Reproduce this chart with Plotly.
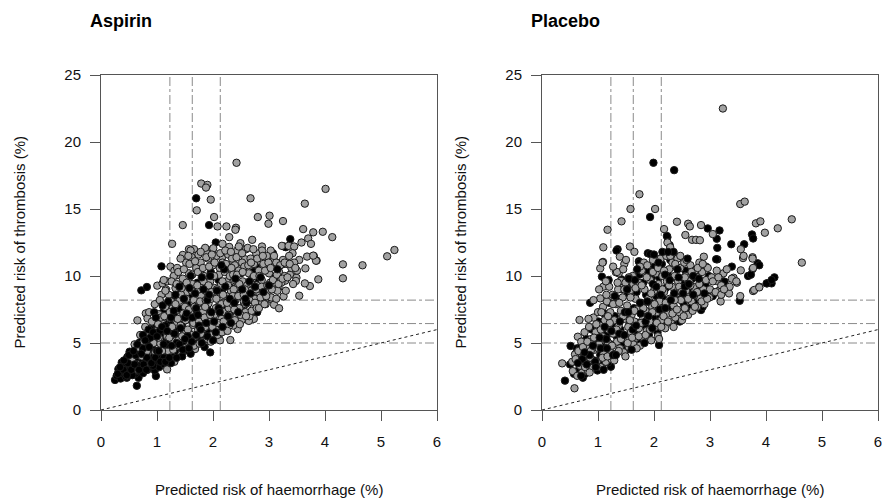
import plotly.graph_objects as go

# ---------------------------------------------------------------
# Predicted risks (%) per patient: (haemorrhage, thrombosis)
# ---------------------------------------------------------------
aspirin_black = [
    # isolated patients
    (0.25, 2.24), (0.64, 1.81), (0.98, 2.54), (0.67, 2.41), (0.46, 2.41), (0.51, 4.35),
    (0.42, 3.30), (0.50, 3.66), (0.72, 8.93), (0.82, 9.18), (1.08, 10.72), (1.95, 4.30),
    (2.79, 7.30), (1.70, 15.8), (1.93, 13.8), (2.05, 12.5), (3.38, 12.75), (3.27, 12.2),
    (3.30, 12.15), (3.07, 11.7), (2.77, 10.67), (2.72, 10.3), (3.26, 10.9), (2.50, 9.28),
    # main cloud
    (0.28, 2.55), (0.31, 3.05), (0.35, 2.35), (0.37, 3.55), (0.39, 2.75), (0.43, 3.25),
    (0.44, 2.50), (0.47, 3.95), (0.49, 2.95), (0.52, 3.45), (0.53, 2.62), (0.56, 4.15),
    (0.57, 3.10), (0.59, 3.70), (0.61, 2.70), (0.62, 4.55), (0.64, 3.35), (0.66, 3.95),
    (0.67, 2.90), (0.69, 5.05), (0.71, 4.30), (0.72, 3.20), (0.74, 3.75), (0.75, 2.75),
    (0.77, 4.75), (0.78, 5.55), (0.80, 3.45), (0.81, 4.10), (0.83, 3.00), (0.84, 5.20),
    (0.86, 4.50), (0.87, 3.70), (0.89, 6.05), (0.90, 3.25), (0.92, 4.85), (0.93, 5.60),
    (0.95, 4.05), (0.96, 2.95), (0.98, 6.40), (0.99, 3.55), (1.01, 5.15), (1.02, 4.40),
    (1.04, 3.20), (1.05, 6.80), (1.07, 3.85), (1.08, 5.70), (1.10, 4.70), (1.11, 7.30),
    (1.13, 3.40), (1.14, 6.15), (1.16, 4.25), (1.17, 5.30), (1.19, 7.90), (1.20, 3.70),
    (1.22, 6.60), (1.24, 4.60), (1.25, 5.65), (1.27, 8.40), (1.29, 3.95), (1.30, 7.10),
    (1.32, 4.95), (1.34, 6.00), (1.36, 4.30), (1.37, 8.90), (1.39, 5.40), (1.41, 7.55),
    (1.43, 4.60), (1.45, 6.35), (1.47, 9.30), (1.49, 5.10), (1.52, 4.45), (1.54, 7.90),
    (1.56, 5.80), (1.58, 6.75), (1.60, 4.75), (1.62, 8.60), (1.65, 5.35), (1.67, 7.20),
    (1.70, 4.90), (1.72, 9.50), (1.75, 6.20), (1.77, 5.20), (1.80, 8.00), (1.83, 6.70),
    (1.85, 5.50), (1.88, 9.20), (1.90, 7.50), (1.93, 5.80), (1.96, 10.3), (1.98, 6.90),
    (2.01, 8.40), (2.04, 5.50), (2.07, 7.40), (2.10, 9.70), (2.13, 6.30), (2.16, 8.80),
    (2.19, 5.90), (2.22, 7.80), (2.26, 10.6), (2.29, 6.70), (2.33, 9.10), (2.37, 7.30),
    (2.41, 8.60), (2.45, 6.60), (2.50, 10.2), (2.55, 7.80), (2.60, 9.00), (2.66, 7.20),
    (2.71, 8.40), (2.78, 9.60), (2.85, 8.10), (2.95, 10.4), (3.10, 9.90),
]

aspirin_gray = [
    # isolated patients
    (2.42, 18.45), (1.79, 16.9), (1.90, 16.8), (1.875, 16.6), (1.96, 15.7), (1.71, 14.9),
    (2.02, 14.4), (1.46, 13.8), (2.08, 13.7), (2.24, 13.7), (2.41, 13.6), (2.40, 13.45),
    (2.67, 15.8), (2.80, 14.4), (3.01, 14.5), (2.99, 13.9), (3.25, 14.1), (4.01, 16.5),
    (3.64, 15.4), (3.61, 13.5), (3.79, 13.26), (3.96, 13.3), (4.13, 12.9), (3.70, 12.8),
    (3.58, 12.5), (3.75, 12.4), (1.27, 12.4), (2.17, 12.4), (2.29, 12.9), (2.49, 12.45),
    (2.70, 12.7), (2.875, 12.2), (3.23, 12.25), (3.35, 12.25), (5.24, 11.94), (5.11, 11.47),
    (1.57, 12.0), (1.66, 12.0), (1.99, 12.0), (2.875, 11.9), (3.03, 11.9), (3.45, 12.2),
    (3.42, 11.7), (3.68, 11.45), (3.80, 11.5), (3.85, 11.15), (1.89, 11.7), (2.005, 12.07),
    (2.29, 12.17), (2.16, 11.37), (4.32, 10.87), (4.67, 10.8), (4.32, 9.83), (3.65, 10.57),
    (3.88, 9.75), (3.73, 9.25), (3.375, 10.1), (3.20, 10.8), (3.08, 11.27), (2.96, 11.3),
    (2.57, 11.25), (2.36, 11.07), (2.44, 10.57), (3.54, 11.2), (3.49, 9.87), (3.84, 11.14),
    (3.79, 11.52), (3.64, 9.45), (3.48, 9.63), (3.29, 9.65), (3.17, 9.15), (3.05, 8.26),
    (3.26, 8.48), (3.54, 8.53), (3.09, 7.86), (3.18, 7.59), (2.73, 6.8), (2.64, 6.65),
    (2.44, 6.04), (2.125, 5.2), (2.31, 5.22), (1.18, 3.03), (1.65, 4.55), (0.65, 6.69),
    (0.80, 7.21), (0.83, 6.84), (1.005, 9.28), (1.10, 9.45), (1.18, 9.6), (1.24, 10.7),
    (1.31, 10.4), (1.35, 10.05), (1.46, 11.57), (1.60, 11.9),
    # main cloud
    (0.55, 3.75), (0.60, 4.90), (0.63, 3.00), (0.68, 4.60), (0.70, 5.60), (0.73, 4.00),
    (0.76, 5.10), (0.79, 6.20), (0.82, 4.40), (0.85, 5.75), (0.88, 3.45), (0.91, 6.60),
    (0.94, 5.00), (0.97, 4.30), (1.00, 5.90), (1.03, 7.15), (1.06, 4.95), (1.09, 6.50),
    (1.12, 3.80), (1.15, 7.70), (1.18, 5.50), (1.20, 4.40), (1.21, 8.60), (1.23, 6.85),
    (1.26, 5.10), (1.28, 7.60), (1.31, 3.60), (1.33, 9.10), (1.35, 6.40), (1.38, 5.20),
    (1.40, 8.15), (1.42, 7.00), (1.44, 4.20), (1.46, 9.80), (1.48, 5.90), (1.50, 7.70),
    (1.51, 6.70), (1.53, 8.80), (1.55, 4.70), (1.57, 10.2), (1.59, 7.30), (1.61, 5.60),
    (1.63, 9.40), (1.64, 6.35), (1.66, 8.20), (1.68, 4.55), (1.70, 10.6), (1.71, 7.80),
    (1.73, 5.95), (1.75, 9.00), (1.76, 6.90), (1.78, 11.0), (1.79, 8.50), (1.81, 5.10),
    (1.82, 7.30), (1.84, 10.0), (1.86, 6.20), (1.87, 8.90), (1.89, 5.35), (1.91, 11.3),
    (1.92, 7.95), (1.94, 6.60), (1.95, 9.60), (1.97, 8.30), (1.99, 5.60), (2.00, 10.8),
    (2.02, 7.10), (2.03, 9.10), (2.05, 6.00), (2.06, 11.5), (2.08, 8.60), (2.09, 7.70),
    (2.11, 10.1), (2.12, 5.70), (2.14, 9.30), (2.15, 6.80), (2.17, 11.0), (2.18, 8.00),
    (2.20, 7.30), (2.21, 10.3), (2.23, 6.20), (2.24, 9.60), (2.25, 8.50), (2.27, 11.6),
    (2.28, 7.60), (2.30, 10.0), (2.31, 6.90), (2.32, 8.90), (2.34, 11.3), (2.35, 7.90),
    (2.36, 6.30), (2.38, 9.70), (2.39, 10.8), (2.40, 8.20), (2.42, 7.00), (2.43, 11.9),
    (2.44, 9.20), (2.46, 10.4), (2.47, 7.60), (2.49, 8.70), (2.51, 6.70), (2.52, 11.0),
    (2.53, 9.60), (2.55, 8.10), (2.56, 10.7), (2.58, 7.30), (2.59, 12.0), (2.61, 9.30),
    (2.62, 8.50), (2.64, 10.2), (2.65, 7.00), (2.67, 11.3), (2.68, 8.90), (2.70, 9.80),
    (2.72, 7.60), (2.73, 10.9), (2.75, 8.30), (2.77, 11.7), (2.78, 9.30), (2.80, 7.90),
    (2.82, 10.4), (2.83, 8.70), (2.85, 11.1), (2.87, 9.70), (2.88, 8.00), (2.90, 10.9),
    (2.92, 9.10), (2.94, 7.90), (2.96, 11.5), (2.98, 8.80), (3.00, 10.2), (3.02, 9.50),
    (3.04, 8.40), (3.07, 10.7), (3.10, 9.00), (3.13, 11.0), (3.15, 8.90), (3.18, 10.3),
    (3.22, 9.50), (3.25, 11.2), (3.28, 10.0), (3.32, 10.9), (3.36, 11.5), (3.40, 10.6),
    (3.45, 11.0), (3.50, 10.4), (1.36, 10.6), (1.52, 11.0), (1.62, 11.4), (1.74, 11.6),
    (1.86, 12.1), (1.42, 11.3), (1.30, 10.0), (1.16, 9.00), (1.08, 8.60), (0.96, 7.90),
    (0.86, 7.30),
    # denser middle of the cloud
    (1.03, 5.40), (1.07, 6.90), (1.05, 8.20), (1.09, 4.40), (1.02, 6.40), (1.13, 7.00),
    (1.17, 5.90), (1.15, 8.90), (1.19, 4.90), (1.12, 9.70), (1.23, 7.30), (1.27, 6.20),
    (1.25, 8.10), (1.29, 4.50), (1.22, 5.40), (1.26, 9.60), (1.33, 7.90), (1.37, 6.80),
    (1.35, 9.40), (1.39, 4.80), (1.32, 5.70), (1.38, 10.3), (1.43, 8.60), (1.47, 7.20),
    (1.45, 5.50), (1.49, 4.60), (1.42, 6.30), (1.48, 10.5), (1.44, 9.10), (1.53, 9.50),
    (1.57, 7.50), (1.55, 6.00), (1.59, 5.10), (1.52, 8.30), (1.58, 10.9), (1.56, 11.5),
    (1.63, 10.1), (1.67, 7.70), (1.65, 6.50), (1.69, 5.50), (1.62, 8.90), (1.68, 11.1),
    (1.66, 4.80), (1.73, 10.3), (1.77, 8.10), (1.75, 6.60), (1.79, 5.70), (1.72, 9.30),
    (1.78, 11.8), (1.76, 4.95), (1.83, 9.60), (1.87, 8.20), (1.85, 6.90), (1.89, 5.30),
    (1.82, 10.6), (1.88, 11.4), (1.86, 7.70), (1.93, 10.7), (1.97, 8.80), (1.95, 7.10),
    (1.99, 6.20), (1.92, 9.30), (1.98, 11.6), (1.96, 5.10), (2.03, 11.0), (2.07, 9.00),
    (2.05, 7.60), (2.09, 6.50), (2.02, 10.0), (2.08, 5.60), (2.06, 8.30), (2.13, 11.7),
    (2.17, 9.60), (2.15, 7.90), (2.19, 6.60), (2.12, 10.6), (2.18, 8.60), (2.16, 5.80),
    (2.23, 10.9), (2.27, 9.30), (2.25, 8.00), (2.29, 6.30), (2.22, 11.9), (2.28, 7.10),
    (2.26, 5.90), (2.33, 10.6), (2.37, 9.00), (2.35, 8.50), (2.39, 6.70), (2.32, 11.8),
    (2.38, 7.50), (2.36, 10.1), (2.43, 10.1), (2.47, 9.40), (2.45, 8.50), (2.49, 7.10),
    (2.42, 11.4), (2.48, 6.40), (2.46, 12.2), (2.53, 10.3), (2.57, 9.00), (2.55, 8.60),
    (2.59, 7.00), (2.52, 11.7), (2.58, 7.90), (2.63, 10.8), (2.67, 9.50), (2.65, 8.20),
    (2.69, 7.40), (2.62, 12.1), (2.68, 11.0), (2.73, 10.0), (2.77, 9.00), (2.75, 8.00),
    (2.79, 11.3), (2.72, 12.0), (2.78, 7.60), (2.83, 10.0), (2.87, 9.20), (2.85, 8.40),
    (2.89, 11.5), (2.82, 7.60), (2.93, 10.4), (2.97, 9.30), (2.95, 8.50), (2.99, 11.0),
    (2.92, 7.90), (3.03, 10.6), (3.07, 9.70), (3.05, 9.00), (3.09, 11.5), (3.14, 10.1),
    (3.17, 9.40), (3.20, 10.8), (3.13, 8.30), (3.24, 9.80), (3.28, 11.0), (3.33, 9.90),
    (3.37, 10.9), (3.43, 9.40), (3.47, 10.6), (3.30, 8.90),
]

aspirin_black_top = [
    (0.30, 2.7), (0.40, 3.0), (0.48, 3.5), (0.56, 2.6), (0.62, 4.1), (0.70, 3.3), (0.75, 4.6),
    (0.82, 3.9), (0.88, 5.4), (0.93, 3.3), (1.00, 4.4), (1.05, 5.9), (1.12, 3.9), (1.18, 4.9),
    (1.25, 3.5), (1.35, 5.0), (1.45, 4.0), (1.55, 5.5), (1.60, 4.2), (1.75, 6.3), (1.85, 4.7),
    (1.90, 8.2), (2.10, 7.6), (2.30, 8.3), (2.40, 9.8), (2.60, 8.0), (2.20, 10.5), (1.70, 7.6),
    (1.50, 6.9), (1.30, 7.4), (1.15, 6.3), (0.75, 5.6), (0.85, 6.0), (0.95, 7.3), (1.40, 9.2),
    (2.65, 9.6), (2.90, 8.8), (1.80, 9.9),
    (0.34, 3.2), (0.41, 3.7), (0.46, 2.6), (0.50, 4.1), (0.54, 3.0), (0.58, 4.4), (0.60, 3.4),
    (0.65, 4.9), (0.68, 3.0), (0.72, 4.2), (0.76, 3.4), (0.79, 5.2), (0.81, 3.0), (0.86, 4.7),
    (0.90, 3.5), (0.93, 5.8), (0.97, 3.9), (1.00, 5.5), (1.03, 4.4), (1.06, 3.6), (1.09, 6.2),
    (1.12, 4.9), (1.15, 3.6), (1.18, 5.9), (1.22, 3.9), (1.26, 4.8), (1.31, 5.7), (1.35, 3.9),
    (1.40, 4.9), (1.46, 4.5), (1.50, 5.3), (1.57, 4.6), (1.62, 5.1), (1.70, 5.6), (1.80, 5.0),
    (1.90, 5.5), (2.00, 5.2), (2.05, 5.8),
    (1.25, 6.9), (1.33, 8.6), (1.42, 6.1), (1.48, 8.3), (1.53, 7.2), (1.58, 9.1), (1.63, 6.9),
    (1.68, 8.7), (1.73, 7.1), (1.78, 6.0), (1.83, 9.0), (1.88, 6.5), (1.93, 8.6), (1.97, 7.3),
    (2.02, 6.6), (2.07, 8.9), (2.12, 7.3), (2.17, 6.2), (2.22, 9.2), (2.27, 7.0), (2.32, 6.5),
    (2.38, 8.0), (2.45, 7.3), (2.52, 9.0), (2.58, 8.3), (2.67, 8.7), (2.75, 9.2), (2.85, 9.9),
    (3.00, 9.3), (1.95, 10.0), (2.15, 10.8), (1.60, 10.0), (1.10, 7.8), (1.20, 8.1),
    (0.98, 6.9), (3.15, 10.5),
]

placebo_black = [
    # isolated patients
    (1.99, 18.45), (2.36, 17.9), (1.93, 14.4), (1.35, 12.0), (2.24, 12.9), (2.96, 13.55),
    (3.12, 12.78), (3.17, 13.4), (3.13, 12.1), (3.38, 12.37), (3.61, 12.37), (3.75, 13.1),
    (3.77, 12.8), (3.85, 10.95), (3.76, 10.52), (3.68, 10.0), (3.39, 10.7), (3.13, 11.24),
    (3.24, 9.6), (4.15, 9.9), (4.10, 9.45), (4.02, 9.45), (0.41, 2.19), (0.51, 4.78),
    (0.62, 4.6), (0.73, 2.41), (0.86, 8.0), (1.07, 9.95), (1.19, 9.7), (1.42, 9.75),
    (1.73, 11.1), (1.89, 11.7), (3.02, 8.6), (3.53, 8.15), (4.01, 9.45), (4.10, 9.7),
    (3.11, 11.25), (3.26, 9.57), (3.73, 10.1), (3.88, 10.8), (1.33, 11.9), (1.74, 11.0),
    (1.93, 11.64), (2.23, 12.99), (2.28, 12.3), (2.09, 4.85), (1.23, 3.23), (2.84, 7.46),
    # main cloud
    (0.50, 3.40), (0.57, 2.70), (0.60, 4.20), (0.66, 3.00), (0.69, 4.70), (0.73, 3.60),
    (0.77, 2.70), (0.79, 5.30), (0.83, 4.20), (0.85, 3.20), (0.89, 6.00), (0.93, 3.70),
    (0.95, 5.00), (0.99, 2.95), (1.01, 6.60), (1.04, 4.10), (1.06, 5.90), (1.08, 3.40),
    (1.11, 7.20), (1.13, 4.70), (1.15, 5.60), (1.18, 3.55), (1.20, 8.00), (1.23, 4.90),
    (1.25, 6.40), (1.28, 3.90), (1.30, 7.00), (1.33, 5.50), (1.35, 8.30), (1.38, 4.40),
    (1.40, 6.00), (1.43, 9.00), (1.45, 5.00), (1.48, 7.10), (1.51, 4.50), (1.53, 8.60),
    (1.56, 6.40), (1.58, 5.00), (1.61, 9.20), (1.64, 7.60), (1.66, 5.70), (1.69, 8.80),
    (1.71, 6.50), (1.74, 10.1), (1.76, 5.20), (1.79, 7.80), (1.81, 9.50), (1.84, 6.30),
    (1.86, 8.60), (1.89, 10.4), (1.91, 5.60), (1.94, 8.00), (1.96, 9.90), (1.99, 6.90),
    (2.01, 10.7), (2.04, 8.50), (2.06, 5.80), (2.09, 9.90), (2.11, 7.00), (2.14, 10.9),
    (2.16, 8.30), (2.19, 6.40), (2.21, 9.10), (2.24, 10.2), (2.26, 7.70), (2.29, 11.2),
    (2.31, 8.00), (2.34, 6.40), (2.36, 9.90), (2.39, 7.40), (2.41, 10.6), (2.44, 8.40),
    (2.46, 6.60), (2.49, 9.40), (2.53, 7.90), (2.56, 10.4), (2.60, 8.90), (2.64, 7.60),
    (2.68, 9.80), (2.72, 8.00), (2.76, 10.1), (2.82, 8.90), (2.87, 7.70), (2.92, 9.30),
    (2.98, 10.0), (3.05, 8.50),
]

placebo_gray = [
    # isolated patients
    (3.23, 22.5), (1.74, 16.1), (1.58, 15.0), (2.02, 15.0), (1.42, 14.08), (1.17, 13.45),
    (1.095, 12.14), (1.57, 12.2), (2.18, 13.5), (2.24, 12.5), (2.29, 12.14), (2.41, 14.05),
    (2.61, 13.9), (2.64, 13.7), (2.56, 13.06), (2.68, 12.7), (2.75, 12.7), (2.82, 12.67),
    (2.84, 13.8), (3.05, 13.13), (3.54, 15.37), (3.62, 15.55), (3.82, 13.93), (3.90, 14.08),
    (3.98, 13.23), (4.21, 13.56), (4.46, 14.23), (3.55, 12.0), (3.59, 11.34), (3.76, 11.4),
    (3.55, 10.42), (3.24, 10.2), (3.42, 9.87), (3.48, 9.5), (4.64, 11.0), (3.88, 9.2),
    (3.12, 9.63), (2.89, 11.44), (2.93, 10.7), (0.36, 3.48), (0.58, 1.62), (0.64, 5.47),
    (0.67, 6.72), (0.54, 3.6), (0.59, 4.15), (1.095, 9.2), (1.04, 10.57), (1.09, 11.05),
    (1.20, 9.2), (1.32, 10.28), (1.37, 10.2), (1.45, 9.4), (1.63, 9.4), (1.82, 11.0),
    (3.16, 8.9), (3.19, 8.1), (3.28, 8.9), (3.34, 8.7), (3.54, 8.5), (3.77, 8.88), (3.79, 8.96),
    (3.88, 9.15), (3.39, 9.8), (3.47, 9.6), (3.77, 10.6), (3.76, 11.3), (3.60, 11.5),
    (1.39, 11.44), (1.47, 10.9), (1.08, 11.0), (1.34, 10.3), (1.41, 9.63), (1.04, 8.33),
    # main cloud
    (0.55, 2.90), (0.60, 3.80), (0.63, 2.55), (0.65, 4.40), (0.68, 3.30), (0.70, 5.10),
    (0.72, 2.80), (0.74, 4.00), (0.76, 5.80), (0.78, 3.50), (0.80, 4.60), (0.82, 2.90),
    (0.84, 6.20), (0.86, 3.90), (0.88, 5.30), (0.90, 3.15), (0.92, 6.90), (0.94, 4.50),
    (0.96, 5.80), (0.98, 3.60), (1.00, 7.30), (1.02, 4.90), (1.03, 6.30), (1.05, 3.20),
    (1.07, 5.50), (1.09, 7.70), (1.10, 4.20), (1.12, 6.70), (1.14, 3.60), (1.16, 8.10),
    (1.17, 5.10), (1.19, 6.00), (1.21, 4.50), (1.22, 7.30), (1.24, 3.80), (1.26, 8.60),
    (1.27, 5.70), (1.29, 6.70), (1.31, 4.20), (1.32, 7.90), (1.34, 5.10), (1.36, 9.00),
    (1.37, 6.30), (1.39, 4.60), (1.41, 7.40), (1.42, 5.70), (1.44, 8.40), (1.46, 4.30),
    (1.47, 6.80), (1.49, 9.50), (1.50, 5.30), (1.52, 7.80), (1.54, 6.20), (1.55, 4.70),
    (1.57, 8.90), (1.59, 5.80), (1.60, 7.10), (1.62, 10.0), (1.63, 4.90), (1.65, 6.60),
    (1.67, 8.30), (1.68, 5.40), (1.70, 7.50), (1.72, 9.50), (1.73, 6.10), (1.75, 4.80),
    (1.77, 8.00), (1.78, 10.4), (1.80, 6.80), (1.82, 5.30), (1.83, 9.00), (1.85, 7.40),
    (1.87, 5.90), (1.88, 10.8), (1.90, 8.30), (1.92, 6.60), (1.93, 9.70), (1.95, 5.20),
    (1.97, 7.70), (1.98, 11.2), (2.00, 8.90), (2.02, 6.20), (2.03, 10.2), (2.05, 7.30),
    (2.07, 5.50), (2.08, 9.40), (2.10, 8.10), (2.12, 11.3), (2.13, 6.70), (2.15, 10.0),
    (2.17, 7.60), (2.18, 8.80), (2.20, 6.10), (2.22, 11.5), (2.23, 9.60), (2.25, 7.20),
    (2.27, 10.5), (2.28, 8.30), (2.30, 6.60), (2.32, 9.20), (2.33, 11.0), (2.35, 7.80),
    (2.37, 10.0), (2.38, 6.90), (2.40, 8.70), (2.42, 11.3), (2.43, 9.60), (2.45, 7.30),
    (2.47, 10.6), (2.48, 8.20), (2.50, 6.70), (2.52, 9.10), (2.54, 11.0), (2.55, 7.60),
    (2.57, 10.0), (2.59, 8.50), (2.61, 7.10), (2.63, 9.60), (2.65, 10.8), (2.67, 8.10),
    (2.69, 7.40), (2.71, 9.20), (2.73, 10.4), (2.75, 8.60), (2.77, 7.70), (2.79, 9.90),
    (2.81, 11.0), (2.83, 8.30), (2.86, 10.3), (2.88, 9.00), (2.90, 7.90), (2.93, 9.70),
    (2.96, 10.6), (2.99, 8.40), (3.03, 9.90), (3.07, 8.80), (3.12, 10.4), (3.20, 9.30),
    (3.30, 10.5), (3.35, 9.20), (1.14, 9.60), (1.27, 10.7), (1.50, 11.2), (1.65, 11.8),
    (1.45, 10.5), (1.02, 9.00), (0.92, 8.20),
    # denser middle of the cloud
    (0.73, 4.70), (0.77, 3.20), (0.81, 5.10), (0.85, 2.80), (0.87, 4.40), (0.83, 6.80),
    (0.93, 5.40), (0.97, 3.30), (1.01, 4.60), (1.05, 6.00), (0.97, 6.40), (1.08, 3.90),
    (1.06, 7.30), (1.13, 5.30), (1.17, 4.00), (1.21, 6.50), (1.25, 4.80), (1.18, 7.00),
    (1.27, 7.90), (1.15, 8.60), (1.29, 3.70), (1.33, 6.00), (1.37, 4.40), (1.41, 5.30),
    (1.45, 7.00), (1.38, 8.00), (1.47, 9.00), (1.35, 9.50), (1.49, 4.00), (1.53, 5.00),
    (1.57, 6.70), (1.61, 5.40), (1.65, 7.40), (1.58, 8.40), (1.67, 9.10), (1.55, 9.90),
    (1.69, 4.60), (1.73, 5.50), (1.77, 6.50), (1.81, 7.60), (1.85, 5.60), (1.78, 9.30),
    (1.87, 9.90), (1.75, 10.7), (1.89, 7.00), (1.93, 6.00), (1.97, 7.30), (2.01, 7.90),
    (2.05, 6.50), (1.98, 10.3), (2.07, 10.6), (1.95, 8.70), (2.09, 5.30), (2.13, 6.20),
    (2.17, 7.00), (2.21, 8.00), (2.25, 6.60), (2.18, 10.4), (2.27, 9.30), (2.15, 9.00),
    (2.29, 11.5), (2.33, 7.20), (2.37, 8.20), (2.41, 7.50), (2.45, 9.20), (2.38, 10.9),
    (2.47, 11.5), (2.35, 6.20), (2.49, 8.80), (2.53, 7.00), (2.57, 8.90), (2.61, 8.30),
    (2.65, 9.30), (2.58, 11.2), (2.67, 10.3), (2.55, 9.90), (2.73, 7.70), (2.77, 8.80),
    (2.81, 9.40), (2.85, 8.10), (2.78, 10.6), (2.87, 10.9), (2.95, 8.30), (3.00, 9.00),
    (3.05, 9.60), (3.10, 8.80), (3.15, 9.90), (3.20, 8.60), (3.25, 9.00),
]

placebo_black_top = [
    (0.72, 3.8), (0.85, 4.1), (0.95, 3.6), (1.05, 4.6), (1.15, 5.3), (1.27, 4.1), (1.38, 5.7),
    (1.48, 7.3), (1.62, 6.0), (1.75, 8.0), (1.85, 6.6), (1.98, 9.4), (2.10, 7.5), (2.20, 10.1),
    (2.30, 8.2), (2.42, 10.5), (2.55, 9.2), (2.70, 10.0), (2.00, 11.6), (2.15, 11.8),
    (1.70, 10.5), (2.35, 11.8), (2.60, 11.3), (1.55, 9.8),
    (0.64, 3.5), (0.70, 2.55), (0.76, 4.3), (0.80, 3.4), (0.91, 4.8), (0.96, 3.2), (1.03, 5.4),
    (1.10, 3.0), (1.16, 4.6), (1.24, 5.9), (1.32, 4.1), (1.39, 6.6), (1.47, 5.6), (1.54, 7.3),
    (1.60, 4.5), (1.68, 6.3), (1.76, 7.2), (1.83, 5.0), (1.90, 7.0), (1.97, 6.1), (2.04, 9.2),
    (2.12, 8.6), (2.20, 7.6), (2.28, 9.7), (2.36, 8.7), (2.44, 9.9), (2.52, 8.7), (2.62, 9.4),
    (2.70, 8.6), (2.80, 9.8), (2.90, 8.7), (1.88, 8.1), (2.08, 11.0), (2.25, 11.8), (1.66, 9.7),
    (1.52, 9.0), (1.30, 8.5), (1.12, 6.2),
]

# Reference cut-points drawn as dash-dot guides
haem_cuts = [1.23, 1.63, 2.13]
thromb_cuts = [5.0, 6.45, 8.2]
identity_line = [0, 6]

x_ticks = [0, 1, 2, 3, 4, 5, 6]
y_ticks = [0, 5, 10, 15, 20, 25]
panel_titles = ["Aspirin", "Placebo"]
x_title = "Predicted risk of haemorrhage (%)"
y_title = "Predicted risk of thrombosis (%)"

FONT = "Liberation Sans, Arial, Helvetica, sans-serif"
GRAY_FILL = "#a2a2a2"
EDGE = "#1a1a1a"
GUIDE = "#8a8a8a"

fig = go.Figure()


def add_points(points, fill, xa, ya):
    fig.add_trace(go.Scatter(
        x=[p[0] for p in points], y=[p[1] for p in points],
        mode="markers", xaxis=xa, yaxis=ya, showlegend=False, hoverinfo="skip",
        marker=dict(size=7.4, color=fill, line=dict(color=EDGE, width=1)),
    ))


panels = [
    ("x", "y", aspirin_black, aspirin_gray, aspirin_black_top),
    ("x2", "y2", placebo_black, placebo_gray, placebo_black_top),
]

for xa, ya, black, gray, black_top in panels:
    # guides underneath the points
    for c in haem_cuts:
        fig.add_trace(go.Scatter(x=[c, c], y=[y_ticks[0], y_ticks[-1]], mode="lines",
                                 xaxis=xa, yaxis=ya, showlegend=False, hoverinfo="skip",
                                 line=dict(color=GUIDE, width=1, dash="dashdot")))
    for c in thromb_cuts:
        fig.add_trace(go.Scatter(x=[x_ticks[0], x_ticks[-1]], y=[c, c], mode="lines",
                                 xaxis=xa, yaxis=ya, showlegend=False, hoverinfo="skip",
                                 line=dict(color=GUIDE, width=1, dash="dashdot")))
    fig.add_trace(go.Scatter(x=identity_line, y=identity_line, mode="lines",
                             xaxis=xa, yaxis=ya, showlegend=False, hoverinfo="skip",
                             line=dict(color="#222222", width=1, dash="dot")))
    add_points(black, "#000000", xa, ya)
    add_points(gray, GRAY_FILL, xa, ya)
    add_points(black_top, "#000000", xa, ya)

W, H = 882, 501
plot_top, plot_bottom = 75, 410
panel_px = [(101, 437), (542, 878)]

axis_common = dict(
    showline=True, mirror=True, linecolor="#555555", linewidth=1,
    ticks="outside", ticklen=10, tickwidth=1, tickcolor="#555555",
    showgrid=False, zeroline=False, automargin=False, ticklabeloverflow="allow",
    tickfont=dict(family=FONT, size=15, color="#111111"),
)

y_dom = [(H - plot_bottom) / H, (H - plot_top) / H]
fig.update_layout(
    width=W, height=H, margin=dict(l=0, r=0, t=0, b=0, pad=0, autoexpand=False),
    paper_bgcolor="white", plot_bgcolor="white",
    font=dict(family=FONT),
    xaxis=dict(domain=[panel_px[0][0] / W, panel_px[0][1] / W], range=[0, 6],
               tickvals=x_ticks, anchor="y", ticklabelstandoff=8, **axis_common),
    yaxis=dict(domain=y_dom, range=[0, 25], tickvals=y_ticks, anchor="x",
               ticklabelstandoff=6, **axis_common),
    xaxis2=dict(domain=[panel_px[1][0] / W, panel_px[1][1] / W], range=[0, 6],
                tickvals=x_ticks, anchor="y2", ticklabelstandoff=8, **axis_common),
    yaxis2=dict(domain=y_dom, range=[0, 25], tickvals=y_ticks, anchor="x2",
                ticklabelstandoff=6, **axis_common),
)

annotations = []
for (lx, rx), title in zip(panel_px, panel_titles):
    annotations.append(dict(
        text=f"<b>{title}</b>", x=(lx - 13) / W, y=(H - 21) / H, xref="paper", yref="paper",
        xanchor="left", yanchor="middle", showarrow=False,
        font=dict(family=FONT, size=18, color="#000000")))
    annotations.append(dict(
        text=x_title, x=((lx + rx) / 2) / W, y=(H - 489) / H, xref="paper", yref="paper",
        xanchor="center", yanchor="middle", showarrow=False,
        font=dict(family=FONT, size=15, color="#111111")))
    annotations.append(dict(
        text=y_title, x=(lx - 82) / W, y=((H - plot_top + H - plot_bottom) / 2) / H,
        xref="paper", yref="paper", xanchor="center", yanchor="middle", textangle=-90,
        showarrow=False, font=dict(family=FONT, size=15, color="#111111")))
fig.update_layout(annotations=annotations)

fig.write_html("out.html")
